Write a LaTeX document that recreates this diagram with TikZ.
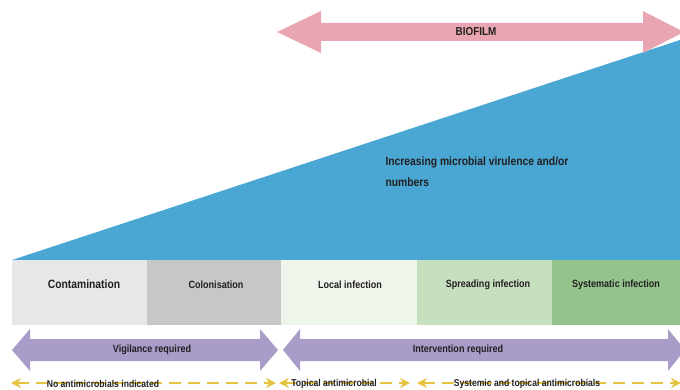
\documentclass[tikz,border=0pt]{standalone}
\usepackage{fontspec}
\setmainfont[FakeStretch=0.86]{Liberation Sans}
\usetikzlibrary{arrows.meta}
\definecolor{txt}{HTML}{231F20}
\definecolor{blueT}{HTML}{4AA7D3}
\definecolor{pinkA}{HTML}{E9A6B2}
\definecolor{purpA}{HTML}{A99CC9}
\definecolor{yelA}{HTML}{E6C340}
\definecolor{cA}{HTML}{E6E7E8}
\definecolor{cB}{HTML}{C6C7C9}
\definecolor{cC}{HTML}{EEF5EB}
\definecolor{cD}{HTML}{C6DFBF}
\definecolor{cE}{HTML}{94C38B}
\tikzset{
  stage/.style={text=txt,font=\fontsize{10.5}{12}\selectfont\bfseries},
  lbl/.style={text=txt,font=\fontsize{10.5}{12}\selectfont\bfseries},
  dlbl/.style={text=txt,font=\fontsize{10}{10}\selectfont\bfseries,inner sep=0pt},
  dline/.style={draw=yelA,line width=1.8pt,dash pattern=on 12pt off 7pt,{Stealth[length=10pt,width=10pt]}-{Stealth[length=10pt,width=10pt]}},
}
\begin{document}
\begin{tikzpicture}[x=1pt,y=-1pt]
\useasboundingbox (0,0) rectangle (680,390);
% triangle
\fill[blueT] (12,260) -- (680,40) -- (680,260) -- cycle;
% biofilm arrow
\fill[pinkA] (277,32) -- (321,11) -- (321,23) -- (643,23) -- (643,11) -- (684,32) -- (643,53) -- (643,41) -- (321,41) -- (321,53) -- cycle;
\node[lbl,font=\fontsize{11.5}{12}\selectfont\bfseries] (bio) at (476,32) {BIOFILM};
\node[text=txt,font=\fontsize{12}{21}\selectfont\bfseries,align=left,anchor=north west] (inc) at (382,153) {Increasing microbial virulence and/or\\numbers};
% stages
\fill[cA] (12,260) rectangle (147,325);
\fill[cB] (147,260) rectangle (281,325);
\fill[cC] (281,260) rectangle (417,325);
\fill[cD] (417,260) rectangle (552,325);
\fill[cE] (552,260) rectangle (680,325);
\node[stage,font=\fontsize{12}{12}\selectfont\bfseries] (s1) at (84,284) {Contamination};
\node[stage] (s2) at (216,285) {Colonisation};
\node[stage] (s3) at (350,285) {Local infection};
\node[stage] (s4) at (488,285) {Spreading infection};
\node[stage] (s5) at (616,285) {Systematic infection};
% purple arrows
\fill[purpA] (12,350) -- (30,329) -- (30,339) -- (260,339) -- (260,329) -- (278,350) -- (260,371) -- (260,361) -- (30,361) -- (30,371) -- cycle;
\fill[purpA] (283,350) -- (300,329) -- (300,339) -- (668,339) -- (668,329) -- (685,350) -- (668,371) -- (668,361) -- (300,361) -- (300,371) -- cycle;
\node[lbl] (v) at (152,350) {Vigilance required};
\node[lbl] (iv) at (458,350) {Intervention required};
% dashed arrows
\coordinate (d1a) at (11,383); \coordinate (d1b) at (276,383);
\coordinate (d2a) at (279,383); \coordinate (d2b) at (410,383);
\coordinate (d3a) at (417,383); \coordinate (d3b) at (681,383);
\draw[dline] (d1a) -- (d1b);
\draw[dline] (d2a) -- (d2b);
\draw[dline] (d3a) -- (d3b);
\node[dlbl] (t1) at (103,384) {No antimicrobials indicated};
\node[dlbl] (t2) at (334,384) {Topical antimicrobial};
\node[dlbl] (t3) at (527,384) {Systemic and topical antimicrobials};
\end{tikzpicture}
\end{document}
